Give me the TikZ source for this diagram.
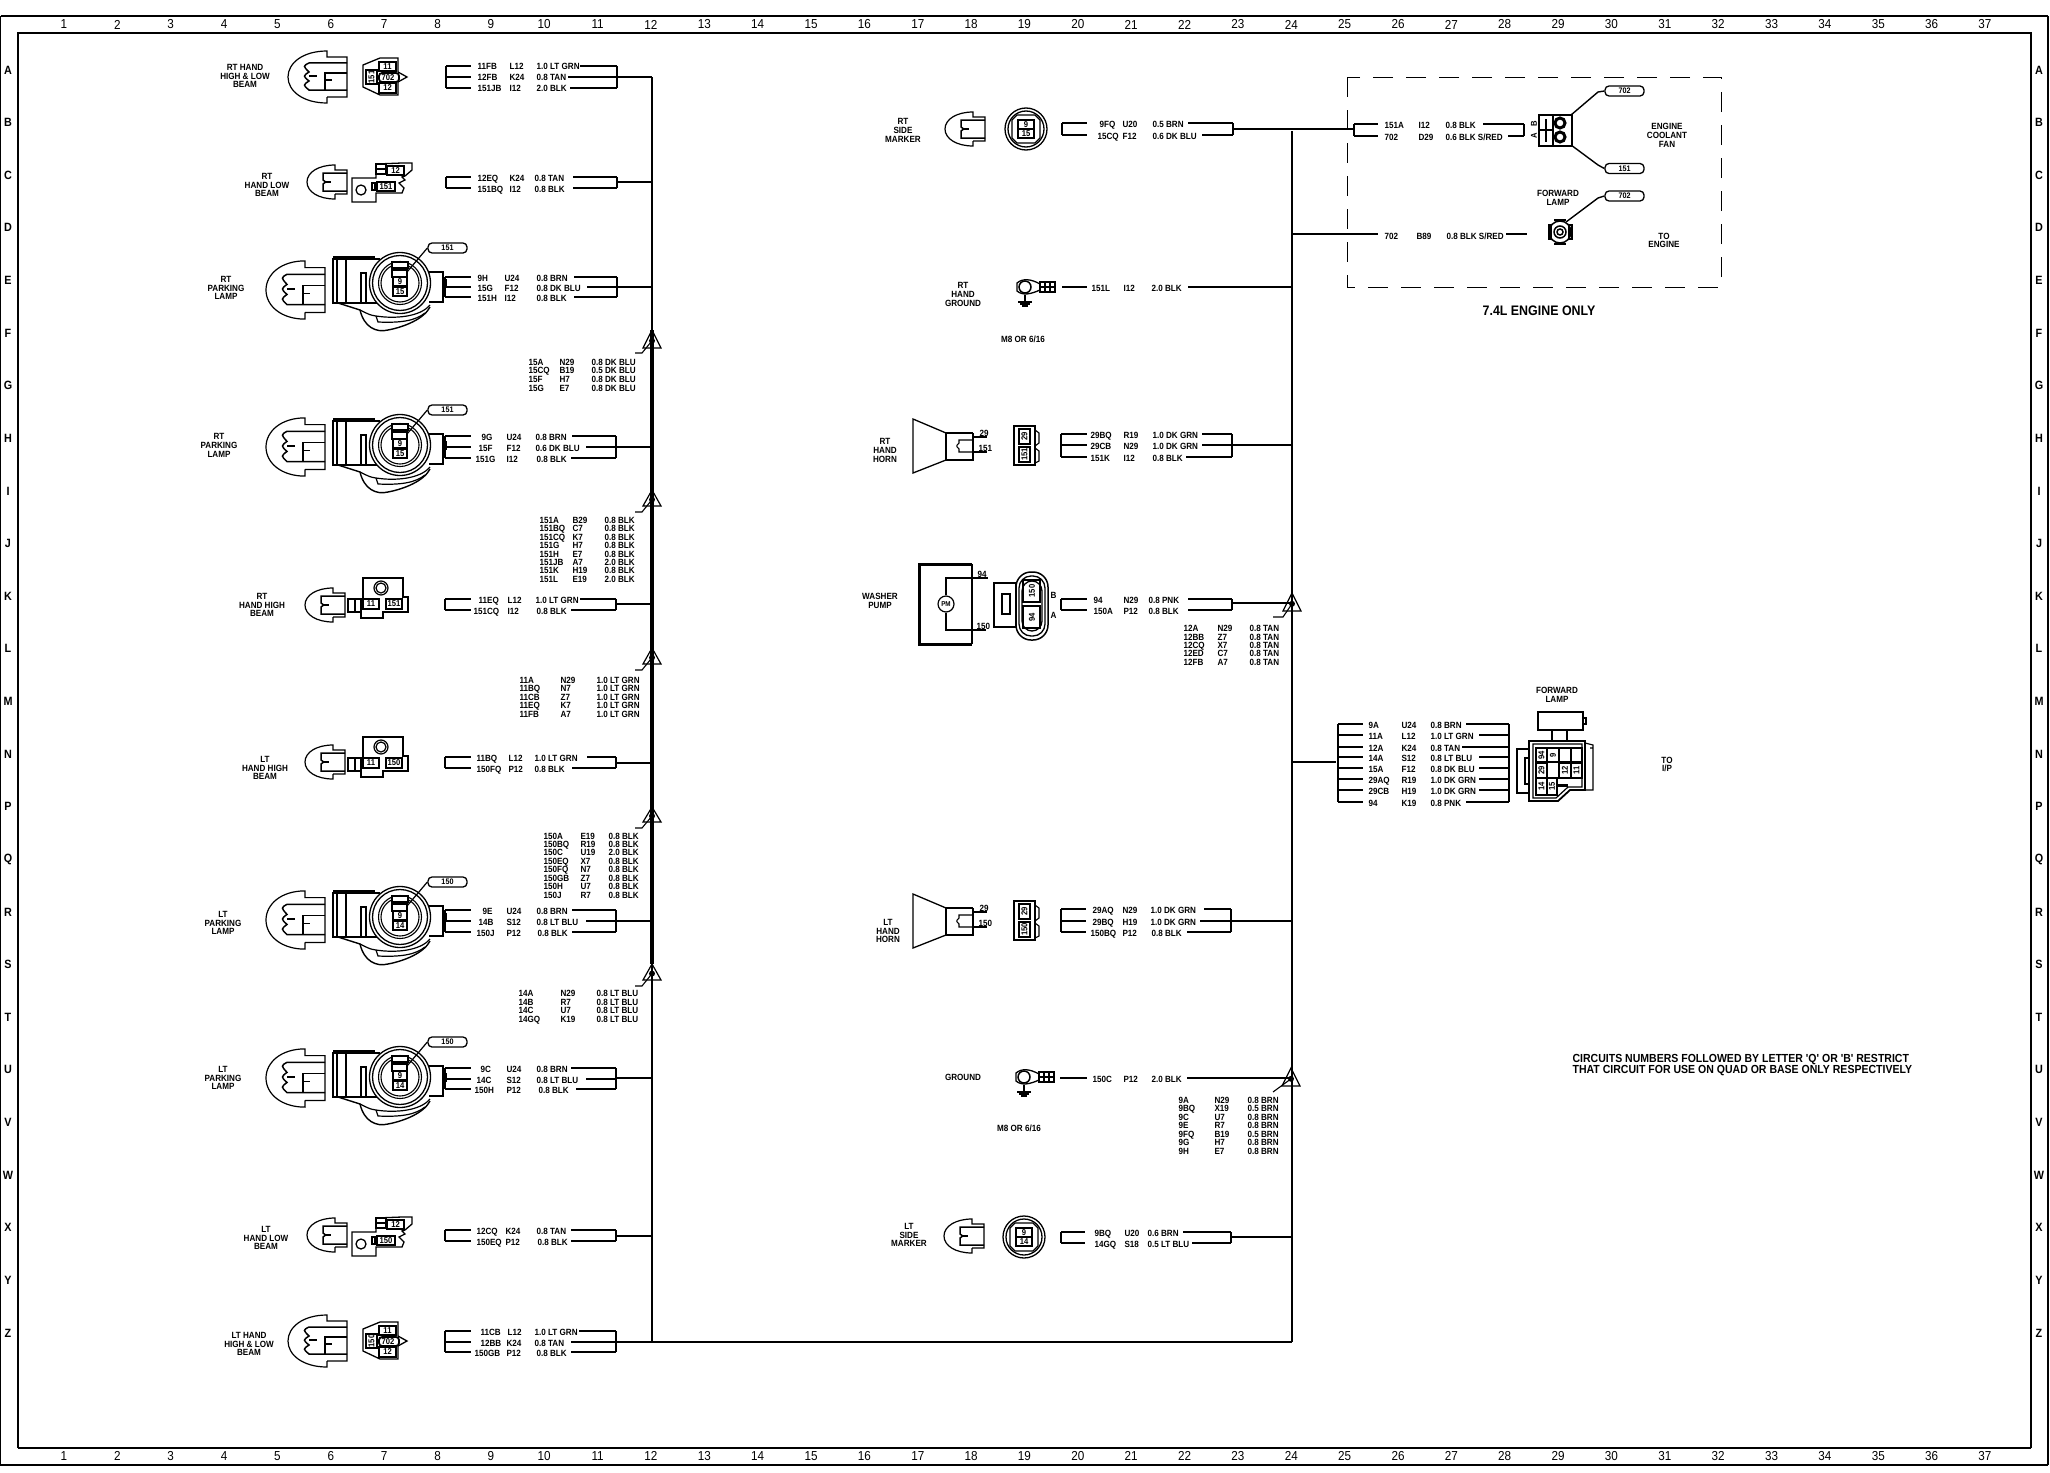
\documentclass[tikz,border=0pt]{standalone}
\usepackage{fontspec}
\newfontfamily\wfont[FakeStretch=0.9]{Liberation Sans}
\tikzset{
 wtx/.style={font=\wfont\bfseries\fontsize{9}{9}\selectfont,inner sep=0pt,anchor=base west,yshift=-4pt},
 notetx/.style={font=\wfont\bfseries\fontsize{11.7}{11.7}\selectfont,inner sep=0pt,anchor=base west,yshift=-4pt},
 lblcap/.style={font=\wfont\bfseries\fontsize{9}{8.7}\selectfont,inner sep=0pt,align=center,anchor=center},
 num/.style={font=\wfont\bfseries\fontsize{8.5}{8.5}\selectfont,inner sep=0pt,anchor=center},
 edgenum/.style={font=\wfont\fontsize{13}{13}\selectfont,inner sep=0pt,anchor=center},
 rowl/.style={font=\wfont\bfseries\fontsize{12}{12}\selectfont,inner sep=0pt,anchor=center},
 tagbox/.style={draw,line width=1.3pt,rounded corners=4pt,minimum width=39pt,minimum height=10pt,inner sep=0pt,font=\wfont\bfseries\fontsize{8}{8}\selectfont},
 thk/.style={line width=1.8pt},
 spl/.style={line width=1.2pt}
}
% wire group
\newcommand{\wg}[9][1.2]{%
 \coordinate (#2-lt) at (#3,#6); \coordinate (#2-lb) at (#3,#7);
 \coordinate (#2-rt) at (#5,#6); \coordinate (#2-rb) at (#5,#7);
 \coordinate (#2-tr) at (#5,#8); \coordinate (#2-bus) at (\busx,#8);
 \draw (#2-lt)--(#2-lb); \draw (#2-rt)--(#2-rb);
 \draw[line width=#1pt] (#2-tr)--(#2-bus);
 \foreach \wy/\wc/\wcx/\wk/\wkx/\wt/\wtx/\wst/\wa/\wb in {#9} {
  \coordinate (#2-\wc-a) at (#3,\wy); \coordinate (#2-\wc-b) at (#4,\wy);
  \coordinate (#2-\wc-d) at (\wst,\wy); \coordinate (#2-\wc-e) at (#5,\wy);
  \draw[line width=\wa pt] (#2-\wc-a)--(#2-\wc-b);
  \draw[line width=\wb pt] (#2-\wc-d)--(#2-\wc-e);
  \node[wtx] (#2-\wc-c) at (\wcx,\wy) {\wc};
  \node[wtx] (#2-\wc-k) at (\wkx,\wy) {\wk};
  \node[wtx] (#2-\wc-l) at (\wtx,\wy) {\wt};
 }}
% splice list
\newcommand{\wlist}[5]{%
 \foreach \wy/\wc/\wk/\wt in {#5} {
  \node[wtx] (#1-\wc-c) at (#2,\wy) {\wc};
  \node[wtx] (#1-\wc-k) at (#3,\wy) {\wk};
  \node[wtx] (#1-\wc-l) at (#4,\wy) {\wt};
 }}
% splice triangle: x, apex y, base y, hook x1, hook x2, hook y
\newcommand{\splice}[6]{%
 \draw[spl] (#1,#2)--(#1+9,#3)--(#1-9,#3)--cycle;
 \fill (#1,#2*0.4+#3*0.6) circle[radius=3pt];
 \draw[line width=1.1pt] (#1,#2*0.4+#3*0.6)--(#4,#6)--(#5,#6);
}
\newcommand{\plugbig}[3]{\begin{scope}[shift={(#1,#2)},yscale=#3]
 \draw[line width=1.2pt] (0,20)--(0,26) .. controls (-24,26) and (-39,14) .. (-39,0) .. controls (-39,-14) and (-24,-26) .. (0,-26)--(0,-20)--(20,-20)--(20,20)--(0,20);
 \draw[line width=1.5pt] (20,-14)--(-18,-14) .. controls (-24,-11) .. (-18,-5) .. controls (-24,-1) .. (-18,4) .. controls (-24,8) .. (-18,13)--(20,13);
 \draw[line width=1.2pt] (20,-4)--(-2,-4)--(-2,13);
 \draw[line width=1.5pt] (-2,3)--(5,3);
 \draw[line width=1.5pt] (-18,-1)--(-10,-1);
 \end{scope}}
\newcommand{\plugsmall}[2]{\begin{scope}[shift={(#1,#2)}]
 \draw[line width=1.2pt] (0,12)--(0,17) .. controls (-16,17) and (-28,10) .. (-28,0) .. controls (-28,-10) and (-16,-17) .. (0,-17)--(0,-12)--(12,-12)--(12,12)--(0,12);
 \draw[line width=1.5pt] (12,-9)--(-12,-9)--(-12,-2) .. controls (-9,0) .. (-12,2)--(-12,9)--(12,9);
 \draw[line width=1.8pt] (-11,0)--(-4,0);
 \end{scope}}
\newcommand{\termhl}[5]{\begin{scope}[shift={(#2,#3)}]
 \draw[line width=1.3pt] (0,-12)--(17,-19)--(35,-19)--(35,-5)--(44,0)--(35,5)--(35,18)--(17,18)--(0,10)--cycle;
 \draw[thk] (16,-15) rectangle (33,-6); \draw[thk] (16,6) rectangle (33,16);
 \draw[thk] (3,-7) rectangle (14,7);
 \draw[thk,rounded corners=3pt] (16,-4) rectangle (36,5);
 \node[num] (#1-a) at (24.5,-10.5) {11}; \node[num] (#1-b) at (24.5,11) {12};
 \node[num,rotate=90] (#1-c) at (8.5,0) {#4}; \node[num] (#1-d) at (25,0.5) {#5};
 \end{scope}}
\newcommand{\termlow}[3]{\begin{scope}[shift={(352,#2)}]
 \draw[line width=1.3pt] (0,-4)--(24,-4)--(24,-18)--(50,-19)--(60,-19)--(60,-12)--(53,-6)--(50,-5)--(53,-2)--(47,1)--(52,6)--(50,11)--(24,11)--(24,20)--(0,20)--cycle;
 \draw[thk,fill=white] (24,-18) rectangle (34,-8); \draw[line width=2.5pt] (25,-13)--(33,-13);
 \draw[thk,fill=white] (35,-16) rectangle (52,-7);
 \draw[thk,fill=white] (25,0) rectangle (43,9);
 \draw[thk,fill=white] (20,1) rectangle (23,8);
 \draw[line width=1.3pt] (9,8) circle[radius=5pt];
 \node[num] (#1-a) at (43.5,-11.5) {12}; \node[num] (#1-b) at (34,4.5) {#3};
 \end{scope}}
\newcommand{\termhigh}[3]{\begin{scope}[shift={(363,#2)}]
 \draw[line width=1.3pt] (0,-6)--(0,-26)--(40,-26)--(40,-7)--(45,-7)--(45,8)--(20,8)--(20,14)--(-2,14)--(-2,8);
 \draw[line width=1.8pt] (-15,-5) rectangle (-2,8); \draw[line width=2pt] (-8,-5)--(-8,8);
 \draw[line width=1.2pt] (18,-16) circle[radius=7pt] (18,-16) circle[radius=5pt];
 \draw[line width=1.3pt] (0,-5) rectangle (16,5); \draw[line width=1.3pt] (23,-5) rectangle (39,5);
 \node[num] (#1-a) at (8,0) {11}; \node[num] (#1-b) at (31,0) {#3};
 \end{scope}}
\newcommand{\termpark}[5]{\begin{scope}[shift={(400,#2)}]
 \draw[line width=1.3pt] (-67,-24) rectangle (-54,20); \draw[line width=1.8pt] (-63,-24)--(-63,20);
 \draw[line width=1.5pt] (-67,-26)--(-25,-26); \draw[line width=1.5pt] (-54,-24)--(-20,-24);
 \draw[line width=1.3pt] (-54,20)--(-20,20);
 \draw[line width=1.2pt] (-39,20)--(-39,-10)--(-34,-10)--(-34,20);
 \draw[line width=1.3pt] (29,-11)--(43,-11)--(43,19)--(29,19); \draw (43,-3)--(46,-3)--(46,4)--(43,4);
 \fill[white] (0,0) circle[radius=30.5pt];
 \draw[line width=1.3pt] (0,0) circle[radius=30.5pt] (0,0) circle[radius=27.5pt];
 \draw[line width=1.1pt] (0,0) circle[radius=21.5pt] (0,0) circle[radius=19pt];
 \draw[line width=1.4pt] (-62,20)--(-40,27) .. controls (-36,44) and (-24,50) .. (-12,47) .. controls (4,44) and (24,36) .. (30,24);
 \draw[line width=1.2pt] (-40,27) .. controls (-30,32) .. (-24,33) .. controls (-5,36) and (20,34) .. (30,22);
 \draw[line width=1.2pt] (-24,33)--(-22,39) .. controls (0,40) and (15,38) .. (25,30);
 \draw[line width=1.2pt,fill=white] (-8,-21) rectangle (8,-15);
 \draw[line width=1.8pt,fill=white] (-8,-13) rectangle (7,-6);
 \draw[line width=1.2pt,fill=white] (-7,-6) rectangle (7,3);
 \draw[line width=1.2pt,fill=white] (-7,4) rectangle (7,13);
 \node[num] (#1-a) at (0,-1.5) {#4}; \node[num] (#1-b) at (0,8.5) {#5};
 \node[tagbox] (#1-t) at (47.5,-35) {#3};
 \draw[line width=1.2pt] (#1-t.west)--(7,-11);
 \end{scope}}
\newcommand{\termround}[5]{\begin{scope}[shift={(#2,#3)}]
 \draw[line width=1.3pt] (0,0) circle[radius=21pt] (0,0) circle[radius=18pt];
 \draw[line width=1.3pt] (-9,-14)--(9,-14)--(14,-9)--(14,9)--(9,14)--(-9,14)--(-14,9)--(-14,-9)--cycle;
 \draw[line width=1.5pt] (-8,-9) rectangle (8,9); \draw[line width=1.8pt] (-8,0)--(8,0);
 \node[num] (#1-a) at (0,-4.5) {#4}; \node[num] (#1-b) at (0,5) {#5};
 \end{scope}}
\newcommand{\termgnd}[3]{\begin{scope}[shift={(#2,#3)}]
 \draw[line width=1.5pt] (0,0) circle[radius=6pt];
 \draw[line width=1.3pt] (15,-3) .. controls (6,-8) and (-2,-9) .. (-8,-4)--(-8,4) .. controls (-2,9) and (6,7) .. (15,3);
 \draw[line width=1.2pt] (15,-5) rectangle (30,5); \draw[line width=1.2pt] (15,0)--(30,0) (20,-5)--(20,5) (25,-5)--(25,5);
 \draw[line width=1.2pt] (0,8)--(0,15) (-7,15)--(7,15) (-5,17)--(5,17) (-3,19)--(3,19);
 \end{scope}}
\newcommand{\horn}[4]{\begin{scope}[shift={(0,#2)}]
 \draw[line width=1.3pt] (913,419)--(946,433)--(946,460)--(913,473)--cycle;
 \draw[line width=1.8pt] (946,460)--(946,433)--(973,433);
 \draw[line width=1.2pt] (946,460)--(973,460)--(973,433);
 \draw[line width=1.1pt] (973,437)--(987,437);
 \draw[line width=1.7pt] (973,452)--(987,452);
 \draw[line width=1.1pt] (973,440)--(959,440)--(959,443) .. controls (956,446) .. (959,449)--(959,452)--(973,452);
 \node[wtx] (#1-w1) at (979,432) {29}; \node[wtx] (#1-w2) at (978,447) {#3};
 \draw[line width=1.8pt] (1014,426) rectangle (1035,465);
 \draw[line width=1.1pt] (1035,430)--(1039,433)--(1039,443)--(1035,446) (1035,448)--(1039,451)--(1039,461)--(1035,463);
 \draw[line width=1.7pt] (1019,429) rectangle (1030,444); \draw[line width=1.7pt] (1019,447) rectangle (1030,462);
 \node[num,rotate=90] (#1-a) at (1024.5,436.5) {29}; \node[num,rotate=90] (#1-b) at (1024.5,454.5) {#4};
 \end{scope}}
\begin{document}
\begin{tikzpicture}[x=1pt,y=-1pt,line width=1.1pt]
\useasboundingbox (0,0) rectangle (2050,1472);
\fill[white] (0,0) rectangle (2050,1472);
% frame
\coordinate (fa) at (0.6,16); \coordinate (fb) at (2048,16); \coordinate (fc) at (2048,1465); \coordinate (fd) at (0.6,1465);
\draw[line width=2.5pt] (fa)--(fb);
\draw[line width=1.6pt] (fb)--(fc);
\draw[line width=1.2pt] (fc)--(fd)--(fa);
\coordinate (ga) at (18,33); \coordinate (gb) at (2031,33); \coordinate (gc) at (2031,1448); \coordinate (gd) at (18,1448);
\draw[line width=1.4pt] (gd)--(ga)--(gb)--(gc);
\draw[line width=2pt] (gc)--(gd);
\foreach \n in {1,...,37} {
 \pgfmathsetmacro{\xx}{64+53.36*(\n-1)}
 \node[edgenum] (top\n) at (\xx,24.5) {\n};
 \node[edgenum] (bot\n) at (\xx,1456) {\n};
}
\foreach \ch [count=\i from 0] in {A,B,C,D,E,F,G,H,I,J,K,L,M,N,P,Q,R,S,T,U,V,W,X,Y,Z} {
 \pgfmathsetmacro{\yy}{70+52.62*\i}
 \node[rowl] (lft\ch) at (8,\yy) {\ch};
 \node[rowl] (rgt\ch) at (2039,\yy) {\ch};
}
% buses
\coordinate (ba) at (652,77); \coordinate (bb) at (652,330); \coordinate (bc) at (652,964); \coordinate (bd) at (652,1342);
\coordinate (be) at (1292,1342); \coordinate (bf) at (1292,131);
\draw[line width=2pt] (ba)--(bb);
\draw[line width=3.6pt] (bb)--(bc);
\draw[line width=2.2pt] (bc)--(bd);
\draw[line width=2pt] (bd)--(be);
\draw[line width=2.5pt] (be)--(bf);
\splice{652}{330}{348}{642}{635}{353}
\splice{652}{490}{506}{642}{635}{512}
\splice{652}{648}{664}{642}{635}{670}
\splice{652}{807}{822}{642}{635}{828}
\splice{652}{964}{980}{642}{635}{986}
\splice{1292}{593}{611}{1283}{1273}{617}
\splice{1291}{1068}{1086}{1273}{1273}{1092}
% left column labels
\node[lblcap] (c1) at (245,76) {RT HAND\\HIGH \& LOW\\BEAM};
\node[lblcap] (c2) at (267,185) {RT\\HAND LOW\\BEAM};
\node[lblcap] (c3) at (226,288) {RT\\PARKING\\LAMP};
\node[lblcap] (c4) at (219,445.5) {RT\\PARKING\\LAMP};
\node[lblcap] (c5) at (262,605) {RT\\HAND HIGH\\BEAM};
\node[lblcap] (c6) at (265,768) {LT\\HAND HIGH\\BEAM};
\node[lblcap] (c7) at (223,923) {LT\\PARKING\\LAMP};
\node[lblcap] (c8) at (223,1078) {LT\\PARKING\\LAMP};
\node[lblcap] (c9) at (266,1238) {LT\\HAND LOW\\BEAM};
\node[lblcap] (c10) at (249,1344) {LT HAND\\HIGH \& LOW\\BEAM};
% left column shapes
\plugbig{327}{77}{1}
\plugsmall{335}{182}
\plugbig{305}{290}{1.12}
\plugbig{305}{447}{1.12}
\plugsmall{333}{605}
\plugsmall{333}{762}
\plugbig{305}{920}{1.12}
\plugbig{305}{1078}{1.12}
\plugsmall{335}{1235}
\plugbig{327}{1341}{1}
\termhl{th1}{363}{77}{151}{702}
\termlow{tl1}{182}{151}
\termpark{tp1}{283}{151}{9}{15}
\termpark{tp2}{445}{151}{9}{15}
\termhigh{tb1}{604}{151}
\termhigh{tb2}{763}{150}
\termpark{tp3}{917}{150}{9}{14}
\termpark{tp4}{1077}{150}{9}{14}
\termlow{tl2}{1236}{150}
\termhl{th2}{363}{1341}{150}{702}
% left wires
\def\busx{652}
\wg[1.6]{g1}{446}{471}{617}{66}{88}{77}{66/11FB/477/L12/509/1.0 LT GRN/536/580/2/1.1,77/12FB/477/K24/509/0.8 TAN/536/568/1.1/1.1,88/151JB/477/I12/509/2.0 BLK/536/570/2/2}
\wg[1.6]{g2}{446}{471}{617}{177}{188}{182}{177/12EQ/477/K24/509/0.8 TAN/534/573/1.1/1.8,188/151BQ/477/I12/509/0.8 BLK/534/573/1.1/1.1}
\wg{g3}{445}{471}{617}{277}{297}{287}{277/9H/477/U24/504/0.8 BRN/536/574/2/1.8,287/15G/477/F12/504/0.8 DK BLU/536/587/1.1/1.1,297/151H/477/I12/504/0.8 BLK/536/574/1.1/1.8}
\wg[2.2]{g4}{445}{471}{616}{436}{458}{447}{436/9G/481/U24/506/0.8 BRN/535/572/1.1/1.1,447/15F/478/F12/506/0.6 DK BLU/535/586/2/2.2,458/151G/475/I12/506/0.8 BLK/536/571/2/1.1}
\wg{g5}{445}{471}{616}{599}{610}{604}{599/11EQ/478/L12/507/1.0 LT GRN/535/580/1.1/1.1,610/151CQ/473/I12/507/0.8 BLK/536/571/1.1/2}
\wg[1.6]{g6}{445}{471}{616}{757}{768}{763}{757/11BQ/476/L12/508/1.0 LT GRN/534/587/1.1/1.1,768/150FQ/476/P12/508/0.8 BLK/534/572/1.1/2}
\wg[1.6]{g7}{445}{471}{616}{910}{932}{921}{910/9E/482/U24/506/0.8 BRN/536/572/1.8/1.8,921/14B/478/S12/506/0.8 LT BLU/536/586/2/1.1,932/150J/476/P12/506/0.8 BLK/537/572/2/2}
\wg{g8}{445}{471}{616}{1068}{1089}{1078}{1068/9C/480/U24/506/0.8 BRN/536/571/1.1/1.1,1079/14C/476/S12/506/0.8 LT BLU/536/586/2/1.1,1089/150H/474/P12/506/0.8 BLK/538/576/1.1/2}
\wg{g9}{445}{471}{616}{1230}{1241}{1236}{1230/12CQ/476/K24/505/0.8 TAN/536/571/1.1/1.1,1241/150EQ/476/P12/505/0.8 BLK/537/571/1.1/1.1}
\wg{g10}{445}{471}{616}{1331}{1352}{1342}{1331/11CB/480/L12/507/1.0 LT GRN/534/579/2/2,1342/12BB/480/K24/506/0.8 TAN/534/571/1.1/1.1,1352/150GB/474/P12/506/0.8 BLK/536/571/2/1.1}
% left lists
\wlist{s1}{528}{559}{591}{361/15A/N29/0.8 DK BLU,369/15CQ/B19/0.5 DK BLU,378/15F/H7/0.8 DK BLU,387/15G/E7/0.8 DK BLU}
\wlist{s2}{539}{572}{604}{519/151A/B29/0.8 BLK,527/151BQ/C7/0.8 BLK,536/151CQ/K7/0.8 BLK,544/151G/H7/0.8 BLK,553/151H/E7/0.8 BLK,561/151JB/A7/2.0 BLK,569/151K/H19/0.8 BLK,578/151L/E19/2.0 BLK}
\wlist{s3}{519}{560}{596}{679/11A/N29/1.0 LT GRN,687/11BQ/N7/1.0 LT GRN,696/11CB/Z7/1.0 LT GRN,704/11EQ/K7/1.0 LT GRN,713/11FB/A7/1.0 LT GRN}
\wlist{s4}{543}{580}{608}{835/150A/E19/0.8 BLK,843/150BQ/R19/0.8 BLK,851/150C/U19/2.0 BLK,860/150EQ/X7/0.8 BLK,868/150FQ/N7/0.8 BLK,877/150GB/Z7/0.8 BLK,885/150H/U7/0.8 BLK,894/150J/R7/0.8 BLK}
\wlist{s5}{518}{560}{596}{992/14A/N29/0.8 LT BLU,1001/14B/R7/0.8 LT BLU,1009/14C/U7/0.8 LT BLU,1018/14GQ/K19/0.8 LT BLU}
% centre column
\def\busx{1292}
\node[lblcap] (d1) at (903,130.5) {RT\\SIDE\\MARKER};
\plugsmall{973}{129}
\termround{tr1}{1026}{129}{9}{15}
\wg{g11}{1062}{1087}{1233}{123}{135}{129}{123/9FQ/1099/U20/1122/0.5 BRN/1152/1188/1.1/2,135/15CQ/1097/F12/1122/0.6 DK BLU/1152/1202/1.1/2}
\coordinate (g11-t2) at (1353,129); \draw (g11-bus)--(g11-t2);
\node[lblcap] (d2) at (963,294.5) {RT\\HAND\\GROUND};
\termgnd{tg1}{1025}{287}
\coordinate (g12a) at (1062,287); \coordinate (g12b) at (1087,287); \coordinate (g12c) at (1188,287); \coordinate (g12d) at (1292,287);
\draw[line width=1.5pt] (g12a)--(g12b); \draw (g12c)--(g12d);
\node[wtx] (g12-c) at (1091,287) {151L}; \node[wtx] (g12-k) at (1123,287) {I12}; \node[wtx] (g12-l) at (1151,287) {2.0 BLK};
\node[lblcap] (d3) at (1023,339) {M8 OR 6/16};
% RT horn
\node[lblcap] (d4) at (885,450.5) {RT\\HAND\\HORN};
\horn{hr}{0}{151}{151}
\wg[1.8]{g13}{1061}{1087}{1232}{434}{457}{445}{434/29BQ/1090/R19/1123/1.0 DK GRN/1152/1202/1.1/1.1,445/29CB/1090/N29/1123/1.0 DK GRN/1152/1202/1.1/1.1,457/151K/1090/I12/1123/0.8 BLK/1152/1186/1.1/1.1}
% washer pump
\node[lblcap] (d5) at (880,601) {WASHER\\PUMP};
\draw[line width=1.2pt] (972,564)--(972,644);
\draw[line width=3pt] (972,564)--(919,564)--(919,644)--(972,644);
\node[draw,circle,line width=1.2pt,minimum size=16pt,inner sep=0pt,font=\wfont\bfseries\fontsize{7}{7}\selectfont] (pm) at (946,604) {PM};
\coordinate (pa) at (946,578); \coordinate (pb) at (988,578); \coordinate (pc) at (946,630); \coordinate (pd) at (986,630);
\draw (pm.north)--(pa)--(pb); \draw (pm.south)--(pc)--(pd);
\node[wtx] (pw1) at (977,573) {94}; \node[wtx] (pw2) at (976,625) {150};
\draw[line width=2pt] (994,583) rectangle (1016,627);
\draw[line width=1.2pt] (1002,594) rectangle (1010,614);
\draw[line width=1.5pt,rounded corners=15pt,fill=white] (1016,572) rectangle (1048,640);
\draw[line width=1.3pt,rounded corners=12pt] (1019,576) rectangle (1045,636);
\draw[line width=1.3pt,rounded corners=10pt] (1022,581) rectangle (1042,631);
\draw[line width=2pt] (1023,580) rectangle (1040,602); \draw[line width=2pt] (1023,606) rectangle (1040,628);
\node[num,rotate=90] (pk1) at (1032,591) {150}; \node[num,rotate=90] (pk2) at (1032,617) {94};
\node[wtx] (pB) at (1050,594) {B}; \node[wtx] (pA) at (1050,614) {A};
\wg[1.8]{g14}{1061}{1087}{1232}{599}{610}{603}{599/94/1093/N29/1123/0.8 PNK/1148/1188/1.1/1.1,610/150A/1093/P12/1123/0.8 BLK/1148/1188/2/2}
\wlist{s6}{1183}{1217}{1249}{627/12A/N29/0.8 TAN,636/12BB/Z7/0.8 TAN,644/12CQ/X7/0.8 TAN,652/12ED/C7/0.8 TAN,661/12FB/A7/0.8 TAN}
% LT horn
\node[lblcap] (d6) at (888,931) {LT\\HAND\\HORN};
\horn{hl}{475}{150}{150}
\wg[1.8]{g15}{1061}{1086}{1231}{909}{932}{921}{909/29AQ/1092/N29/1122/1.0 DK GRN/1150/1204/1.1/2,921/29BQ/1092/H19/1122/1.0 DK GRN/1150/1200/2/1.1,932/150BQ/1090/P12/1122/0.8 BLK/1151/1187/2/1.1}
% ground
\node[lblcap] (d7) at (963,1077) {GROUND};
\termgnd{tg2}{1024}{1077}
\coordinate (g16a) at (1060,1078); \coordinate (g16b) at (1087,1078); \coordinate (g16c) at (1187,1078); \coordinate (g16d) at (1292,1078);
\draw[line width=1.5pt] (g16a)--(g16b); \draw[line width=1.8pt] (g16c)--(g16d);
\node[wtx] (g16-c) at (1092,1078) {150C}; \node[wtx] (g16-k) at (1123,1078) {P12}; \node[wtx] (g16-l) at (1151,1078) {2.0 BLK};
\node[lblcap] (d8) at (1019,1128) {M8 OR 6/16};
\wlist{s7}{1178}{1214}{1247}{1099/9A/N29/0.8 BRN,1107/9BQ/X19/0.5 BRN,1116/9C/U7/0.8 BRN,1124/9E/R7/0.8 BRN,1133/9FQ/B19/0.5 BRN,1141/9G/H7/0.8 BRN,1150/9H/E7/0.8 BRN}
% LT side marker
\node[lblcap] (d9) at (909,1235) {LT\\SIDE\\MARKER};
\plugsmall{972}{1236}
\termround{tr2}{1024}{1237}{9}{14}
\wg[1.8]{g17}{1061}{1085}{1231}{1232}{1243}{1237}{1232/9BQ/1094/U20/1124/0.6 BRN/1147/1183/1.1/1.1,1243/14GQ/1094/S18/1124/0.5 LT BLU/1147/1192/1.6/2}
% 7.4L box
\draw[dash pattern=on 20pt off 13pt,line width=0.9pt] (1347,77) rectangle (1721,287);
\def\busx{1524}
\wg[0.1]{g18}{1354}{1378}{1524}{124}{136}{130}{124/151A/1384/I12/1418/0.8 BLK/1445/1483/2/2,136/702/1384/D29/1418/0.6 BLK S{/}RED/1445/1508/1.1/1.1}
\draw[line width=1.3pt] (1539,115) rectangle (1572,146);
\draw[line width=2pt] (1553,115)--(1553,146);
\draw[line width=1.2pt] (1539,130)--(1553,130) (1546,119)--(1546,142);
\draw[line width=3pt] (1560,123) circle[radius=5pt] (1560,137) circle[radius=5pt];
\node[num,rotate=90] (fB) at (1534,124) {B}; \node[num,rotate=90] (fA) at (1534,136) {A};
\node[tagbox] (ft1) at (1624.5,91) {702}; \node[tagbox] (ft2) at (1624.5,168.5) {151}; \node[tagbox] (ft3) at (1624.5,196) {702};
\coordinate (fk1) at (1571,115); \coordinate (fk2) at (1571,145); \coordinate (fk3) at (1566,222);
\draw[line width=1.4pt] (ft1.west)--(1598,92)--(fk1);
\draw[line width=1.4pt] (ft2.west)--(1598,165)--(fk2);
\draw[line width=1.4pt] (ft3.west)--(1598,198)--(fk3);
\draw[line width=1.5pt] (1560,232) circle[radius=11pt] (1560,232) circle[radius=6pt] (1560,232) circle[radius=3pt];
\draw[line width=1.3pt] (1549,225) rectangle (1551,239) (1569,225) rectangle (1572,239) (1554,220)--(1566,220) (1554,244)--(1566,244);
\node[lblcap] (e1) at (1667,135.5) {ENGINE\\COOLANT\\FAN};
\node[lblcap] (e2) at (1558,198) {FORWARD\\LAMP};
\node[lblcap] (e3) at (1664,240.5) {TO\\ENGINE};
\coordinate (h1) at (1292,234); \coordinate (h2) at (1378,234); \coordinate (h3) at (1506,234); \coordinate (h4) at (1527,234);
\draw[line width=1.6pt] (h1)--(h2); \draw (h3)--(h4);
\node[wtx] (h-c) at (1384,235) {702}; \node[wtx] (h-k) at (1416,235) {B89}; \node[wtx] (h-l) at (1446,235) {0.8 BLK S/RED};
\node[font=\wfont\bfseries\fontsize{13.8}{13.8}\selectfont,inner sep=0pt] (e4) at (1539,311) {7.4L ENGINE ONLY};
% forward lamp to I/P
\def\busx{1509}
\wg[0.1]{g19}{1338}{1363}{1509}{724}{802}{760}{724/9A/1368/U24/1401/0.8 BRN/1430/1466/1.1/2,735/11A/1368/L12/1401/1.0 LT GRN/1430/1479/1.1/1.1,747/12A/1368/K24/1401/0.8 TAN/1430/1462/1.1/2,757/14A/1368/S12/1401/0.8 LT BLU/1430/1479/1.1/1.1,768/15A/1368/F12/1401/0.8 DK BLU/1430/1479/2/1.1,779/29AQ/1368/R19/1401/1.0 DK GRN/1430/1479/1.1/1.1,790/29CB/1368/H19/1401/1.0 DK GRN/1430/1479/2/2,802/94/1368/K19/1401/0.8 PNK/1430/1466/1.1/1.1}
\coordinate (i1) at (1292,762); \coordinate (i2) at (1336,762); \draw[line width=1.8pt] (i1)--(i2);
\draw[line width=1.3pt] (1538,712) rectangle (1583,730);
\draw (1583,718)--(1586,718)--(1586,724)--(1583,724);
\draw[line width=1.2pt] (1552,730)--(1552,741) (1567,730)--(1567,741);
\draw[line width=1.2pt] (1517,749) rectangle (1529,793);
\draw[line width=1.2pt] (1525,758) rectangle (1529,784);
\draw[line width=1.8pt] (1529,741)--(1585,741)--(1585,790)--(1570,790)--(1558,801)--(1529,801)--cycle;
\draw[line width=1.2pt] (1533,744)--(1582,744)--(1582,787)--(1568,787)--(1556,798)--(1533,798)--cycle;
\draw[line width=1.2pt] (1585,743)--(1593,745)--(1593,790)--(1585,790) (1590,748)--(1593,748);
\draw[line width=1.3pt] (1536,748) rectangle (1547,762) (1547,748) rectangle (1559,762) (1559,748) rectangle (1571,762) (1571,748) rectangle (1582,762);
\draw[line width=1.3pt] (1536,763) rectangle (1547,778) (1559,763) rectangle (1571,778) (1571,763) rectangle (1582,778);
\draw[line width=1.3pt] (1536,778) rectangle (1547,795) (1547,778) rectangle (1557,795);
\draw[line width=3pt] (1558,785)--(1568,785);
\node[num,rotate=90] (j1) at (1541.5,755) {94}; \node[num,rotate=90] (j2) at (1553,755) {9};
\node[num,rotate=90] (j3) at (1541.5,770.5) {29}; \node[num,rotate=90] (j4) at (1565,770.5) {12}; \node[num,rotate=90] (j5) at (1576.5,770.5) {11};
\node[num,rotate=90] (j6) at (1541.5,786.5) {14}; \node[num,rotate=90] (j7) at (1552,786.5) {15};
\node[lblcap] (f1) at (1557,695) {FORWARD\\LAMP};
\node[lblcap] (f2) at (1667,764.5) {TO\\I/P};
% note
\node[notetx] (n1) at (1572,1058) {CIRCUITS NUMBERS FOLLOWED BY LETTER 'Q' OR 'B' RESTRICT};
\node[notetx] (n2) at (1572,1069) {THAT CIRCUIT FOR USE ON QUAD OR BASE ONLY RESPECTIVELY};
\end{tikzpicture}
\end{document}
